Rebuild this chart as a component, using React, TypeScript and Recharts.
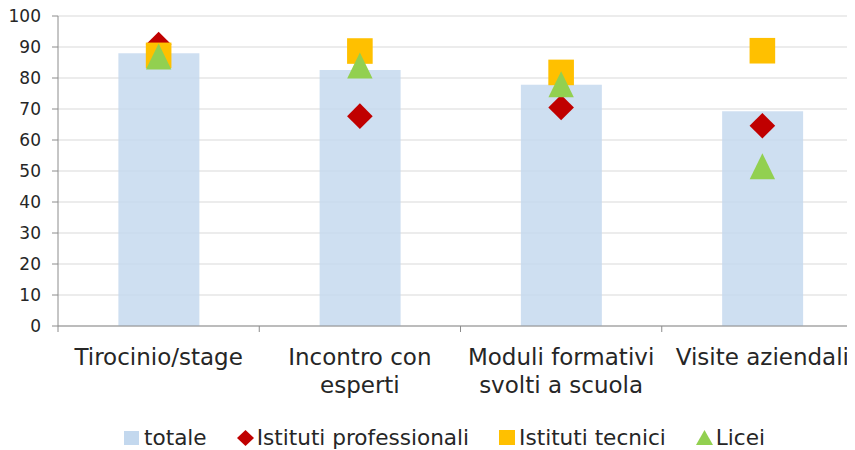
import React from 'react';
import { ComposedChart, Bar, Line, XAxis, YAxis, CartesianGrid, Legend } from 'recharts';

const categories = ['Tirocinio/stage', 'Incontro con esperti', 'Moduli formativi svolti a scuola', 'Visite aziendali'];
const categoryLines = [['Tirocinio/stage'], ['Incontro con', 'esperti'], ['Moduli formativi', 'svolti a scuola'], ['Visite aziendali']];
const totale = [88, 82.6, 77.8, 69.3];
const professionali = [90.8, 67.7, 70.5, 64.6];
const tecnici = [87.3, 88.7, 81.8, 88.8];
const licei = [86.9, 84, 78, 51.5];
const yTicks = [0, 10, 20, 30, 40, 50, 60, 70, 80, 90, 100];
const seriesNames = ['totale', 'Istituti professionali', 'Istituti tecnici', 'Licei'];

const data = categories.map((name, i) => ({
  name,
  totale: totale[i],
  professionali: professionali[i],
  tecnici: tecnici[i],
  licei: licei[i],
}));

const FONT = '"DejaVu Sans", sans-serif';
const AXIS = '#8c8c8c';
const GRID = '#d9d9d9';
const TEXT = '#262626';
const BAR = '#c3d8ee';
const RED = '#c00000';
const GOLD = '#ffc000';
const GREEN = '#92d050';
const M = 12.8;

const Diamond = (p: any) => {
  const { cx, cy } = p;
  if (cx == null || cy == null) return <g key={p.index} />;
  return <path key={'d' + p.index} d={`M${cx},${cy - M}L${cx + M},${cy}L${cx},${cy + M}L${cx - M},${cy}Z`} fill={RED} />;
};
const Square = (p: any) => {
  const { cx, cy } = p;
  if (cx == null || cy == null) return <g key={p.index} />;
  return <rect key={'s' + p.index} x={cx - M} y={cy - M} width={2 * M} height={2 * M} fill={GOLD} />;
};
const Triangle = (p: any) => {
  const { cx, cy } = p;
  if (cx == null || cy == null) return <g key={p.index} />;
  return <path key={'t' + p.index} d={`M${cx},${cy - 13}L${cx + 12.7},${cy + 13}L${cx - 12.7},${cy + 13}Z`} fill={GREEN} />;
};

const CategoryTick = (props: any) => {
  const { x, y, payload } = props;
  const idx = categories.indexOf(payload.value);
  const lines = categoryLines[idx] || [String(payload.value)];
  const half = payload.offset ?? 0;
  return (
    <g>
      <line x1={x - half} x2={x - half} y1={y - 6} y2={y} stroke={AXIS} strokeWidth={1} />
      <text x={x} y={y} textAnchor="middle" fontSize={23} fontFamily={FONT} fill={TEXT}>
        {lines.map((l, i) => (
          <tspan key={i} x={x} dy={i === 0 ? 33 : 28}>{l}</tspan>
        ))}
      </text>
    </g>
  );
};

const icon = (k: number) => {
  if (k === 0) return <rect x={0} y={1} width={15} height={14} fill={BAR} />;
  if (k === 1) return <path d="M8.5,0L17,8L8.5,16L0,8Z" fill={RED} />;
  if (k === 2) return <rect x={0} y={0} width={16} height={15} fill={GOLD} />;
  return <path d="M8.5,0L17,15L0,15Z" fill={GREEN} />;
};

const renderLegend = () => (
  <div
    style={{
      display: 'flex',
      justifyContent: 'center',
      alignItems: 'center',
      height: 30,
      paddingTop: 6,
      paddingLeft: 18,
      boxSizing: 'border-box',
      fontFamily: FONT,
      fontSize: 21.6,
      color: TEXT,
    }}
  >
    {seriesNames.map((n, k) => (
      <div key={n} style={{ display: 'flex', alignItems: 'center', marginRight: k < 3 ? 30 : 0 }}>
        <svg width={17} height={16} style={{ marginRight: 3 }}>{icon(k)}</svg>
        <span style={{ lineHeight: '24px' }}>{n}</span>
      </div>
    ))}
  </div>
);

export default function App() {
  return (
    <div style={{ marginTop: -4 }}>
      <ComposedChart width={855} height={446} data={data} margin={{ top: 12, right: 0, left: 0, bottom: 0 }} barCategoryGap="30%">
        <CartesianGrid vertical={false} stroke={GRID} strokeWidth={1} />
        <XAxis
          dataKey="name"
          height={94}
          interval={0}
          tickLine={false}
          tickSize={6}
          tickMargin={0}
          axisLine={{ stroke: AXIS }}
          tick={(p: any) => <CategoryTick {...p} />}
        />
        <YAxis
          width={50}
          domain={[0, 100]}
          ticks={yTicks}
          interval={0}
          tickSize={6}
          tickMargin={11}
          axisLine={{ stroke: AXIS }}
          tickLine={{ stroke: AXIS }}
          tick={{ fontSize: 17, fontFamily: FONT, fill: TEXT }}
        />
        <Legend verticalAlign="bottom" content={renderLegend} />
        <Bar dataKey="totale" name={seriesNames[0]} fill={BAR} fillOpacity={0.82} isAnimationActive={false} />
        <Line dataKey="professionali" name={seriesNames[1]} stroke="none" dot={Diamond} activeDot={false} isAnimationActive={false} />
        <Line dataKey="tecnici" name={seriesNames[2]} stroke="none" dot={Square} activeDot={false} isAnimationActive={false} />
        <Line dataKey="licei" name={seriesNames[3]} stroke="none" dot={Triangle} activeDot={false} isAnimationActive={false} />
      </ComposedChart>
    </div>
  );
}
